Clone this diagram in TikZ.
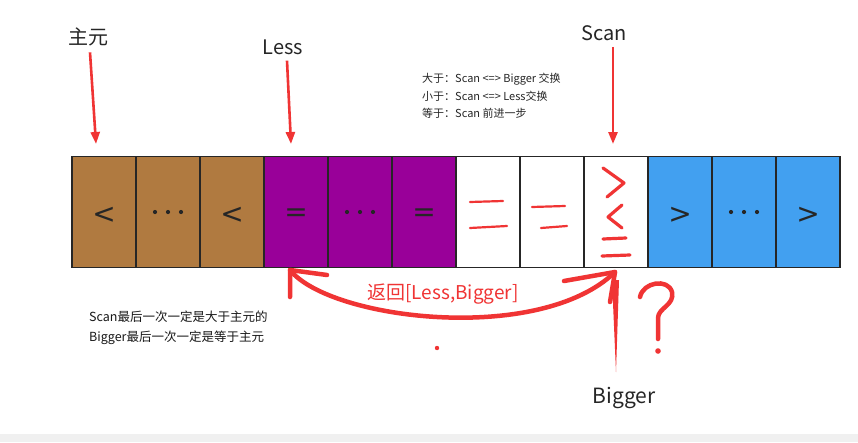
\documentclass[tikz,border=0pt]{standalone}
\usepackage{fontspec}
\setmainfont{Noto Sans CJK SC}
\newfontfamily\cjk{Noto Sans CJK SC}
\newfontfamily\symf{DejaVu Sans}
\usetikzlibrary{arrows.meta}
\definecolor{brownc}{RGB}{176,122,64}
\definecolor{purplec}{RGB}{153,0,153}
\definecolor{bluec}{RGB}{66,160,240}
\definecolor{redc}{RGB}{240,52,52}
\definecolor{greyband}{RGB}{240,240,240}
\tikzset{
  cell/.style={draw=black!85,line width=1.4pt,minimum width=64pt,minimum height=111pt,inner sep=0pt},
  sym/.style={font=\symf\fontsize{28}{28}\selectfont,text=black!85,inner sep=0pt},
  dotm/.style={circle,fill=black!85,inner sep=0pt,minimum size=4.2pt},
  lbl/.style={font=\cjk\fontsize{20}{22}\selectfont,text=black!85,inner sep=1pt},
  note/.style={font=\cjk\fontsize{11}{13}\selectfont,text=black!85,inner sep=0pt,anchor=west},
  bnote/.style={font=\cjk\fontsize{12.5}{14}\selectfont,text=black!90,inner sep=0pt,anchor=west},
  pointer/.style={draw=redc,line width=2.6pt,-{Triangle[length=12pt,width=9pt]}},
  hand/.style={draw=redc,line width=2.2pt,line cap=round,line join=round},
  thickhand/.style={draw=redc,line width=4.5pt,line cap=round,line join=round},
}
\begin{document}
\begin{tikzpicture}[x=1pt,y=-1pt]
\useasboundingbox (0,0) rectangle (858,442);
\fill[white] (0,0) rectangle (858,442);
\fill[greyband] (0,434) rectangle (858,442);
% cells
\foreach \i/\col in {1/brownc,2/brownc,3/brownc,4/purplec,5/purplec,6/purplec,7/white,8/white,9/white,10/bluec,11/bluec,12/bluec}{
  \node[cell,fill=\col] (c\i) at ({72+64*(\i-1)+32},212) {};
}
\foreach \i/\s in {1/{<},3/{<},4/{=},6/{=},10/{>},12/{>}}{
  \node[sym,anchor=center] (s\i) at ([yshift=-3pt]c\i.center) {\s};
}
\foreach \i in {2,5,11}{
  \node[dotm] (d\i a) at ([xshift=-13pt]c\i.center) {};
  \node[dotm] (d\i b) at (c\i.center) {};
  \node[dotm] (d\i c) at ([xshift=13pt]c\i.center) {};
}
% top labels and pointers
\node[lbl] (pivot) at (88,37) {主元};
\node[lbl] (less) at (283,47) {Less};
\node[lbl] (scan) at (604,33) {Scan};
\coordinate (pt1) at (96,144);
\coordinate (pt2) at (291,144);
\coordinate (pt3) at (613,144);
\draw[pointer] (pivot.south)++(2,5) -- (pt1);
\draw[pointer] (less.south)++(4,5) -- (pt2);
\draw[pointer] (scan.south)++(9,5) -- (pt3);
% notes
\node[note] (n1) at (422,79) {大于：Scan <=> Bigger 交换};
\node[note] (n2) at (422,96) {小于：Scan <=> Less交换};
\node[note] (n3) at (422,113) {等于：Scan 前进一步};
\node[bnote] (b1) at (89,317) {Scan最后一次一定是大于主元的};
\node[bnote] (b2) at (89,338) {Bigger最后一次一定是等于主元};
% handwritten marks in white cells
\draw[hand] (470,202) -- (503,201);
\draw[hand] (470,228) -- (507,226);
\draw[hand] (532,207) -- (565,206);
\draw[hand] (541,228) -- (567,226);
\draw[thickhand,line width=3.2pt] (603,168) -- (624,183) -- (607,197);
\draw[thickhand,line width=3.2pt] (622,205) -- (608,217) -- (622,228);
\draw[thickhand,line width=3.2pt] (603,239) -- (626,238);
\draw[thickhand,line width=3.2pt] (602,256) -- (630,255);
% curved double arrow
\coordinate (tipL) at (290,270);
\coordinate (tipR) at (615,272);
\draw[thickhand] (tipL) .. controls (330,320) and (540,345) .. (tipR);
\draw[thickhand] (290,297) -- (tipL) -- (327,275);
\draw[thickhand] (564,281) -- (tipR) -- (610,302);
\node[font=\cjk\fontsize{19}{20}\selectfont,text=redc] (ret) at (443,294) {返回[Less,Bigger]};
% Bigger pointer
\node[lbl,font=\cjk\fontsize{21}{22}\selectfont] (bigger) at (624,398) {Bigger};
\fill[redc] (612,280) -- (619,280) -- (616,372) -- cycle;
% question mark
\draw[thickhand] (640,297) .. controls (643,282) and (668,278) .. (672,292)
  .. controls (675,305) and (658,308) .. (658,318) -- (658,339);
\fill[redc] (658,351) circle (2.8pt);
\fill[redc] (437,348) circle (2.2pt);
\end{tikzpicture}
\end{document}
